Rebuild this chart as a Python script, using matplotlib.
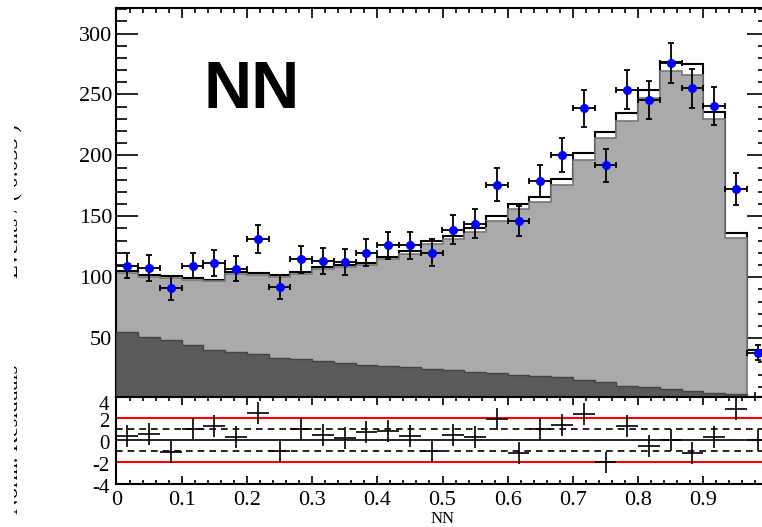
import numpy as np
import matplotlib
matplotlib.use("Agg")
import matplotlib.pyplot as plt
from matplotlib.ticker import MultipleLocator, FixedLocator
from matplotlib.transforms import Bbox, ScaledTranslation

plt.rcParams['font.family'] = 'Liberation Serif'
plt.rcParams['axes.unicode_minus'] = False

# 30 bins of the NN output, 0..1
nbins = 30
edges = np.linspace(0, 1, nbins + 1)
centers = 0.5 * (edges[1:] + edges[:-1])
half = 0.5 * (edges[1] - edges[0])

# stacked templates; last bin only has the open one
dark = [55, 51, 48, 44.5, 40, 38.5, 37, 34, 33, 31,
        29.5, 28, 27, 26, 24.5, 23.5, 22, 21, 20, 19,
        18, 15.5, 13.5, 11, 9.5, 8, 6.5, 5, 4, 0]
grey = [48.5, 49.5, 51.5, 53, 56.5, 64, 64.5, 66, 69.5, 75.5,
        79, 82, 87.5, 93, 103, 107.5, 115, 125.5, 136, 142.5,
        158, 181, 200.5, 217.5, 238, 261.5, 259.5, 225, 128.5, 0]
signal = [1.5, 1.5, 1.5, 1.5, 1.5, 1.5, 1.5, 1.5, 1.5, 1.5,
          1.5, 2, 2, 2.5, 2.5, 3, 3, 3.5, 4, 4.5,
          4.5, 5.5, 5.5, 6, 6.5, 7.5, 9, 6, 3.5, 40]

data = [109.5, 107.6, 91, 109.5, 111.7, 106.8, 131.5, 91.8, 114.5, 113.6,
        112.3, 120, 126, 126, 120, 139, 144, 176, 146, 179,
        200.5, 238.5, 191.7, 254, 245.4, 276, 255, 240.5, 172, 38]

resid = [0.4, 0.57, -1.06, 1.03, 1.3, 0.3, 2.5, -1.0, 1.03, 0.5,
         0.24, 0.76, 0.85, 0.4, -1.0, 0.45, 0.3, 1.97, -1.2, 1.0,
         1.43, 2.4, -2.03, 1.27, -0.55, 0.0, -1.2, 0.3, 2.82, 0.0]

dark = np.array(dark)
grey_top = dark + np.array(grey)
total = grey_top + np.array(signal)
data = np.array(data)

W, H = 762, 527
fig = plt.figure(figsize=(W / 100, H / 100), dpi=100)
# right edge of the frame falls just outside the picture (x=1 at ~768 px)
x0, x1 = 116.5 / W, 768.5 / W
ax = fig.add_axes([x0, (H - 396.5) / H, x1 - x0, (396.5 - 8) / H])
rax = fig.add_axes([x0, (H - 484) / H, x1 - x0, (484 - 396.5) / H])

# main panel
ax.stairs(total, edges, baseline=0, fill=True, color='white', zorder=1)
ax.stairs(total, edges, baseline=0, color='black', lw=1.5, zorder=1.1)
ax.stairs(grey_top, edges, baseline=0, fill=True, color='#aaa9ab', zorder=2)
ax.stairs(grey_top, edges, baseline=0, color='#767676', lw=1.2, zorder=2.1)
ax.stairs(dark, edges, baseline=0, fill=True, color='#5a5a5a', zorder=3)
ax.stairs(dark, edges, baseline=0, color='#444444', lw=1.0, zorder=3.1)
ax.errorbar(centers, data, xerr=half, yerr=np.sqrt(data), fmt='o', color='blue',
            ms=5.5, ecolor='black', elinewidth=1.3, capsize=2, capthick=1.3, zorder=5)

ax.set_xlim(0, 1)
ax.set_ylim(2, 321)
ax.xaxis.set_major_locator(MultipleLocator(0.1))
ax.xaxis.set_minor_locator(MultipleLocator(0.02))
ax.yaxis.set_major_locator(MultipleLocator(50))
ax.yaxis.set_minor_locator(MultipleLocator(10))
ax.tick_params(which='both', direction='in', top=True, right=True,
               labelbottom=False, labelsize=16, width=1.2, pad=3)
ax.tick_params(axis='y', which='major', length=16)
ax.tick_params(axis='y', which='minor', length=8)
ax.tick_params(axis='x', which='major', length=7)
ax.tick_params(axis='x', which='minor', length=3.6)
for s in ax.spines.values():
    s.set_linewidth(1.5)

fig.text(203 / W, 1 - 108 / H, 'NN', fontsize=48, fontweight='bold',
         family='Liberation Sans', ha='left', va='baseline')

# residual panel
rax.axhline(2, color='red', lw=1.5)
rax.axhline(-2, color='red', lw=1.5)
rax.axhline(1, color='black', lw=1.2, ls=(0, (4, 3)))
rax.axhline(-1, color='black', lw=1.2, ls=(0, (4, 3)))
rax.axhline(0, color='black', lw=1.2)
rax.errorbar(centers, resid, xerr=half, yerr=1, fmt='none', ecolor='black',
             elinewidth=1.2, capsize=0)
rax.set_xlim(0, 1)
rax.set_ylim(-4, 4)
rax.yaxis.set_major_locator(FixedLocator([-4, -2, 0, 2, 4]))
rax.xaxis.set_major_locator(FixedLocator(np.arange(0, 1.0, 0.1)))
rax.xaxis.set_minor_locator(MultipleLocator(0.02))
rax.xaxis.set_major_formatter(lambda v, p: '0' if abs(v) < 1e-9 else f'{v:.1f}')
rax.tick_params(which='both', direction='in', top=True, labelsize=16, width=1.2)
rax.tick_params(axis='y', length=0, pad=5, labelsize=15)
rax.tick_params(axis='x', which='major', length=5.8, pad=5)
rax.tick_params(axis='x', which='minor', length=2.9)
for s in rax.spines.values():
    s.set_linewidth(1.5)
rax.set_xlabel('NN', fontsize=12, labelpad=1)
fig.canvas.draw()
# residual labels sit a little below their ticks, the top one more so
for lab in rax.get_yticklabels():
    dy = 4.5 if lab.get_text() == '4' else 1.5
    lab.set_transform(lab.get_transform() + ScaledTranslation(0, -dy / 72, fig.dpi_scale_trans))

# axis titles, mostly cut off at the left edge of the picture
clip = Bbox([[14, 0], [40, H]])
for ypix, txt in [(201, 'Events / ( 0.033 )'), (439, 'Norm. Residuals')]:
    t = fig.text(23 / W, 1 - ypix / H, txt, fontsize=16, rotation=90,
                 ha='right', va='center')
    t.set_clip_box(clip)
    t.set_clip_on(True)

fig.savefig('out.png', dpi=100)
